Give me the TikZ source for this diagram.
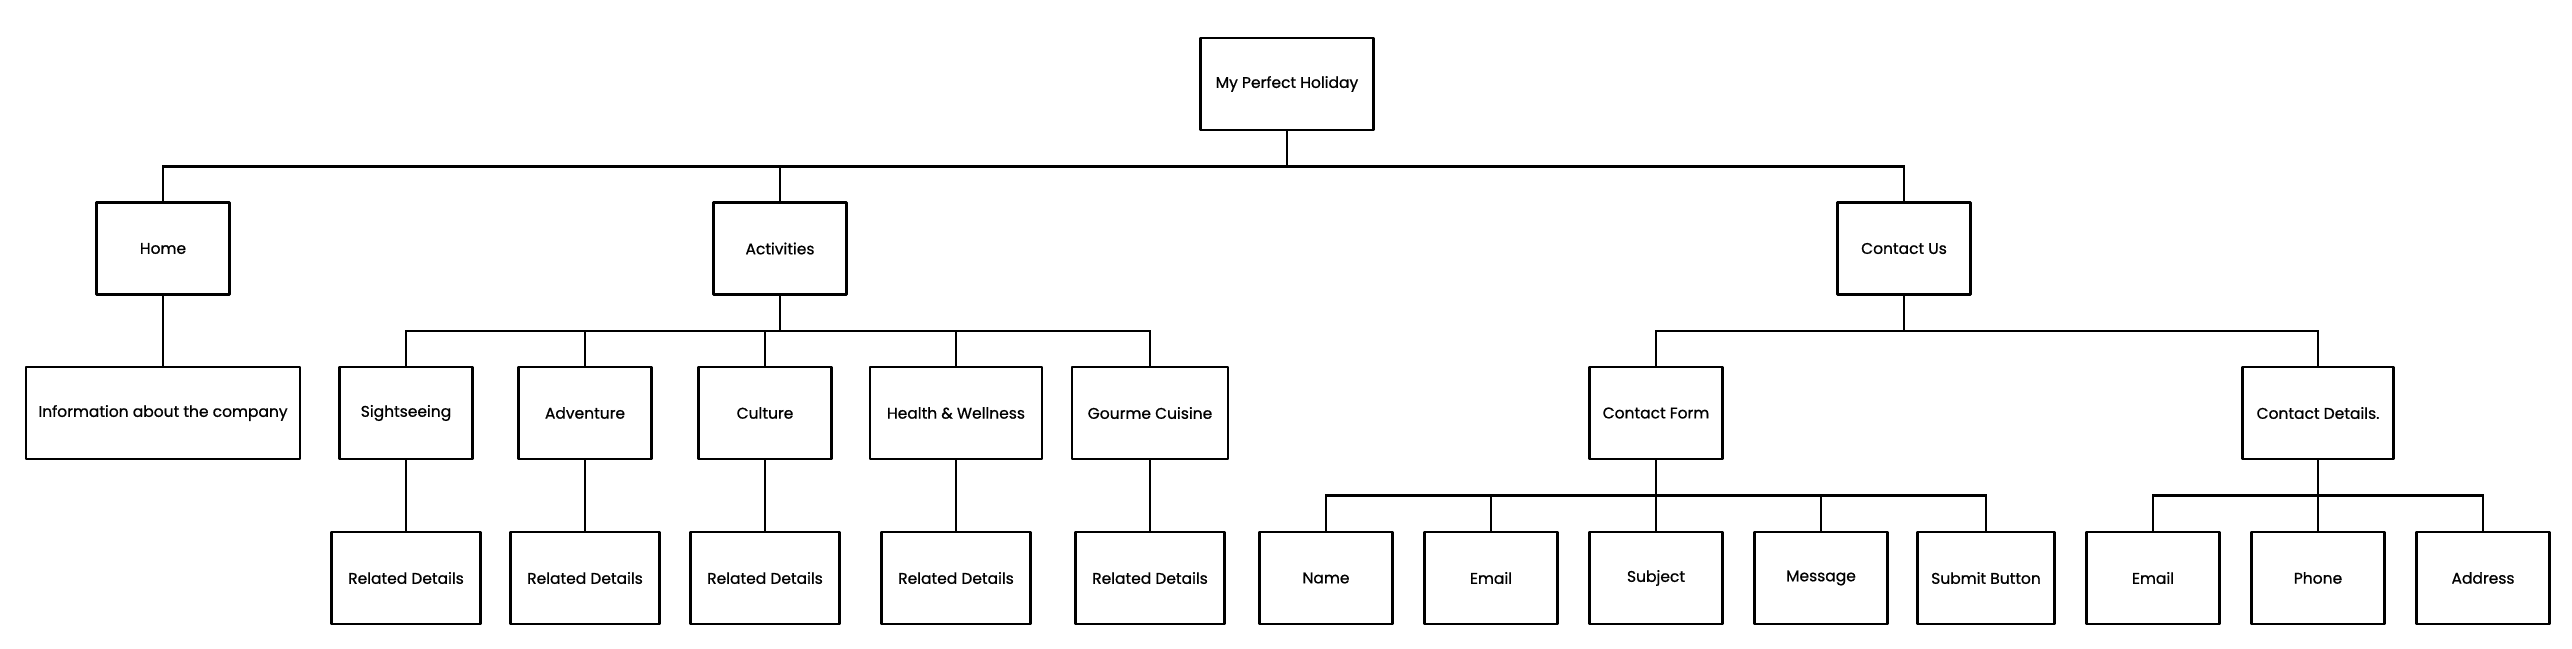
\documentclass[tikz,border=0pt]{standalone}
\usepackage{fontspec}
\setmainfont{Poppins}
\newfontfamily\boxfont{Poppins}[FakeBold=0.8]
\begin{document}
\begin{tikzpicture}[x=1pt,y=-1pt,
  box/.style={draw=black, line width=2.8pt, line join=round, minimum width=133pt, minimum height=92pt, inner sep=0pt, font=\boxfont\fontsize{15.5}{18}\selectfont, text=black},
  link/.style={draw=black, line width=2.2pt}]
\useasboundingbox (0,0) rectangle (2572,648);
% level 1
\node[box, minimum width=173pt] (root) at (1287,84) {My Perfect Holiday};
% level 2
\node[box] (home) at (163,248.5) {Home};
\node[box] (act) at (780,248.5) {Activities};
\node[box] (cus) at (1904,248.5) {Contact Us};
% level 3
\node[box, minimum width=274pt] (info) at (163,413) {Information about the company};
\node[box] (sight) at (406,413) {Sightseeing};
\node[box] (adv) at (585,413) {Adventure};
\node[box] (cult) at (765,413) {Culture};
\node[box, minimum width=172pt] (health) at (956,413) {Health \& Wellness};
\node[box, minimum width=156pt] (gourme) at (1150,413) {Gourme Cuisine};
\node[box] (cform) at (1656,413) {Contact Form};
\node[box, minimum width=151pt] (cdet) at (2318,413) {Contact Details.};
% level 4
\node[box, minimum width=149pt] (rd1) at (406,578) {Related Details};
\node[box, minimum width=149pt] (rd2) at (585,578) {Related Details};
\node[box, minimum width=149pt] (rd3) at (765,578) {Related Details};
\node[box, minimum width=149pt] (rd4) at (956,578) {Related Details};
\node[box, minimum width=149pt] (rd5) at (1150,578) {Related Details};
\node[box] (name) at (1326,578) {Name};
\node[box] (email) at (1491,578) {Email};
\node[box] (subj) at (1656,578) {Subject};
\node[box] (msg) at (1821,578) {Message};
\node[box, minimum width=137pt] (submit) at (1986,578) {Submit Button};
\node[box] (email2) at (2153,578) {Email};
\node[box] (phone) at (2318,578) {Phone};
\node[box] (addr) at (2483,578) {Address};
% bus levels
\coordinate (b1) at (0,166.5);
\coordinate (b2) at (0,330.6);
\coordinate (b3) at (0,495.5);
% root tree
\draw[link] (root.south) -- (root.south |- b1);
\draw[link] (home.north) |- (cus.north |- b1) -- (cus.north);
\draw[link] (act.north) -- (act.north |- b1);
% home
\draw[link] (home.south) -- (info.north);
% activities tree
\draw[link] (act.south) -- (act.south |- b2);
\draw[link] (sight.north) |- (gourme.north |- b2) -- (gourme.north);
\draw[link] (adv.north) -- (adv.north |- b2);
\draw[link] (cult.north) -- (cult.north |- b2);
\draw[link] (health.north) -- (health.north |- b2);
\draw[link] (sight.south) -- (rd1.north);
\draw[link] (adv.south) -- (rd2.north);
\draw[link] (cult.south) -- (rd3.north);
\draw[link] (health.south) -- (rd4.north);
\draw[link] (gourme.south) -- (rd5.north);
% contact tree
\draw[link] (cus.south) -- (cus.south |- b2);
\draw[link] (cform.north) |- (cdet.north |- b2) -- (cdet.north);
% contact form tree
\draw[link] (cform.south) -- (cform.south |- b3);
\draw[link] (name.north) |- (submit.north |- b3) -- (submit.north);
\draw[link] (email.north) -- (email.north |- b3);
\draw[link] (subj.north) -- (subj.north |- b3);
\draw[link] (msg.north) -- (msg.north |- b3);
% contact details tree
\draw[link] (cdet.south) -- (cdet.south |- b3);
\draw[link] (email2.north) |- (addr.north |- b3) -- (addr.north);
\draw[link] (phone.north) -- (phone.north |- b3);
\end{tikzpicture}
\end{document}
